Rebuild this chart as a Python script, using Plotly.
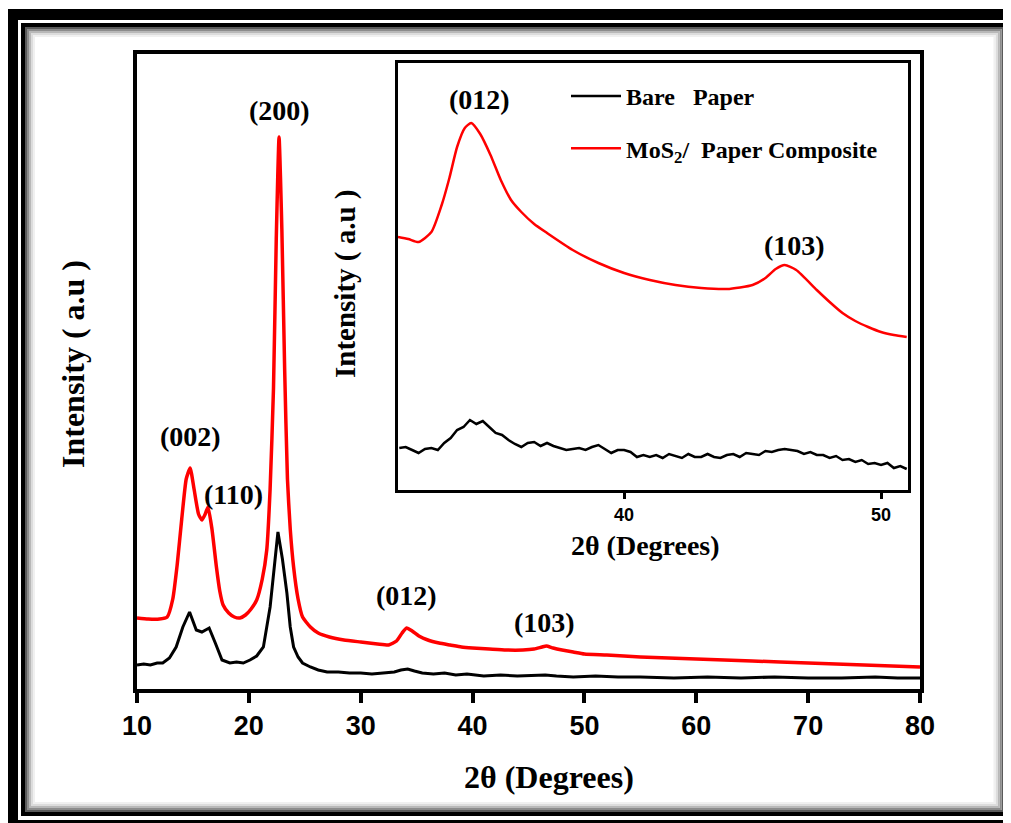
import plotly.graph_objects as go

# ---------------- data ----------------
# main panel, bare paper (black)
main_black_x = [10, 10.6, 11.2, 11.8, 12.3, 12.9, 13.5, 14.1, 14.7, 15.3,
                15.8, 16.45, 17.0, 17.6, 18.3, 18.9, 19.5, 20.1, 20.7, 21.3,
                21.9, 22.3, 22.6, 23.0, 23.4, 23.7, 24.0, 24.4, 24.8, 25.5,
                26.2, 27, 28, 29, 30, 31, 32, 33, 33.6, 34.2,
                34.8, 35.5, 36.5, 37.5, 38.5, 39.5, 41, 42.5, 44, 45.5,
                46.5, 47.5, 49, 51, 53, 55, 58, 61, 64, 67,
                70, 73, 76, 78, 80]
main_black_y = [24, 25, 24, 26, 26, 31, 42, 62, 77, 59,
                57, 61, 46, 29, 26, 27, 26, 29, 33, 42,
                82, 125, 157, 130, 96, 62, 42, 32, 26, 22,
                19, 17, 17, 16, 16, 15, 16, 17, 19, 20,
                18, 16, 15, 16, 14, 15, 13, 14, 13, 14,
                14, 13, 12, 13, 12, 12, 11, 12, 11, 12,
                11, 11, 12, 11, 11]

# main panel, MoS2 / paper composite (red)
main_red_x = [10, 11, 12, 12.7, 13.2, 13.6, 14.0, 14.4, 14.75, 15.1,
              15.5, 15.8, 16.1, 16.35, 16.7, 17.1, 17.4, 17.7, 18.2, 18.7,
              19.2, 19.7, 20.2, 20.7, 21.2, 21.6, 21.9, 22.2, 22.45, 22.7,
              22.95, 23.2, 23.45, 23.7, 24.0, 24.4, 24.8, 25.5, 26.2, 27.2,
              28.5, 30, 31.5, 32.5, 33.2, 33.7, 34.1, 34.6, 35.2, 36,
              37, 38, 39, 40, 41.5, 43, 44.5, 45.5, 46.2, 46.6,
              47.2, 48, 49, 50, 52, 55, 60, 65, 70, 75, 80]
main_red_y = [71, 70, 70, 72, 90, 125, 170, 210, 221, 200,
              175, 169, 175, 182, 160, 122, 98, 84, 76, 72,
              71, 74, 80, 89, 110, 139, 200, 300, 450, 552,
              460, 320, 210, 160, 122, 90, 72, 62, 56, 52,
              49, 47, 45, 44, 48, 56, 61, 58, 53, 49,
              46, 44, 42, 41, 40, 39, 39, 40, 42, 43,
              41, 39, 37, 35, 34, 32, 30, 28, 26, 24, 22]

# inset, bare paper (black)
ins_black_x = [31.25, 31.5, 31.75, 32.0, 32.25, 32.5, 32.75, 33.0, 33.25, 33.5,
               33.75, 34.0, 34.25, 34.5, 34.75, 35.0, 35.25, 35.5, 35.75, 36.0,
               36.25, 36.5, 36.75, 37.0, 37.25, 37.5, 37.75, 38.0, 38.25, 38.5,
               38.75, 39.0, 39.25, 39.5, 39.75, 40.0, 40.25, 40.5, 40.75, 41.0,
               41.25, 41.5, 41.75, 42.0, 42.25, 42.5, 42.75, 43.0, 43.25, 43.5,
               43.75, 44.0, 44.25, 44.5, 44.75, 45.0, 45.25, 45.5, 45.75, 46.0,
               46.25, 46.5, 46.75, 47.0, 47.25, 47.5, 47.75, 48.0, 48.25, 48.5,
               48.75, 49.0, 49.25, 49.5, 49.75, 50.0, 50.25, 50.5, 50.75, 51.0]
ins_black_y = [42, 43, 40, 37, 41, 42, 40, 47, 52, 60,
               63, 70, 66, 69, 63, 57, 55, 50, 46, 43,
               47, 48, 44, 47, 44, 42, 40, 41, 42, 40,
               43, 45, 41, 37, 40, 40, 38, 33, 35, 33,
               35, 32, 36, 34, 32, 36, 33, 33, 36, 33,
               32, 35, 36, 33, 37, 36, 35, 39, 38, 40,
               41, 40, 39, 36, 38, 35, 35, 32, 34, 30,
               31, 28, 30, 26, 27, 25, 27, 22, 24, 21]

# inset, MoS2 / paper composite (red)
ins_red_x = [31.2, 31.6, 32.0, 32.5, 32.9, 33.2, 33.5, 33.8, 34.05, 34.4,
             34.8, 35.2, 35.6, 36.0, 36.5, 37.0, 38.0, 39.0, 40.0, 41.0,
             42.0, 43.0, 44.0, 45.0, 45.5, 45.9, 46.25, 46.7, 47.5, 48.0,
             48.5, 49.0, 49.5, 50.0, 50.5, 51.0]
ins_red_y = [253, 251, 248, 258, 285, 312, 343, 362, 367, 356,
             335, 310, 290, 278, 266, 257, 240, 227, 217, 210,
             205, 202, 201, 205, 212, 221, 225, 220, 200, 188,
             177, 169, 163, 158, 155, 153]

series_names = ["Bare\u00a0\u00a0 Paper", "MoS<sub>2</sub>/\u00a0 Paper Composite"]

main_peak_labels = ["(002)", "(110)", "(200)", "(012)", "(103)"]
main_peak_x = [14.74, 18.67, 22.7, 34.13, 46.46]
main_peak_y = [253, 195, 579, 94, 67]

inset_peak_labels = ["(012)", "(103)"]
inset_peak_x = [34.36, 46.65]
inset_peak_y = [391, 245]

main_ticks = [10, 20, 30, 40, 50, 60, 70, 80]
inset_ticks = [40, 50]

# ---------------- figure ----------------
# the page body has an 8 px margin, so the figure is drawn 8 px in from the
# top-left corner of the window; layout positions below are window pixels.
OFF = 8
W, H = 1011 - OFF, 823 - OFF


def px(x):
    return (x - OFF) / W


def py(y):
    return 1 - (y - OFF) / H


SERIF = "Liberation Serif"
SANS = "Liberation Sans"

fig = go.Figure()

fig.add_trace(go.Scatter(x=main_black_x, y=main_black_y, mode="lines",
                         line=dict(color="black", width=3),
                         xaxis="x", yaxis="y", showlegend=False))
fig.add_trace(go.Scatter(x=main_red_x, y=main_red_y, mode="lines",
                         line=dict(color="#ff0000", width=3.5, shape="spline", smoothing=0.5),
                         xaxis="x", yaxis="y", showlegend=False))
fig.add_trace(go.Scatter(x=ins_black_x, y=ins_black_y, mode="lines",
                         line=dict(color="black", width=2.5),
                         name=series_names[0], legendgroup="a",
                         xaxis="x2", yaxis="y2"))
fig.add_trace(go.Scatter(x=ins_red_x, y=ins_red_y, mode="lines",
                         line=dict(color="#ff0000", width=2.5, shape="spline", smoothing=0.6),
                         name=series_names[1], legendgroup="b",
                         xaxis="x2", yaxis="y2"))

annotations = []
for t, x, y in zip(main_peak_labels, main_peak_x, main_peak_y):
    annotations.append(dict(text=t, x=x, y=y, xref="x", yref="y", showarrow=False,
                            xanchor="center", yanchor="middle",
                            font=dict(family=SERIF, size=28, color="black", weight="bold")))
for t, x, y in zip(inset_peak_labels, inset_peak_x, inset_peak_y):
    annotations.append(dict(text=t, x=x, y=y, xref="x2", yref="y2", showarrow=False,
                            xanchor="center", yanchor="middle",
                            font=dict(family=SERIF, size=28, color="black", weight="bold")))

# axis titles
annotations += [
    dict(text="2\u03b8 (Degrees)", x=px(549), y=py(777), xref="paper", yref="paper",
         showarrow=False, xanchor="center", yanchor="middle",
         font=dict(family=SERIF, size=32, color="black", weight="bold")),
    dict(text="Intensity ( a.u )", x=px(73), y=py(364), xref="paper", yref="paper",
         showarrow=False, textangle=-90, xanchor="center", yanchor="middle",
         font=dict(family=SERIF, size=32, color="black", weight="bold")),
    dict(text="2\u03b8 (Degrees)", x=px(645), y=py(545), xref="paper", yref="paper",
         showarrow=False, xanchor="center", yanchor="middle",
         font=dict(family=SERIF, size=28, color="black", weight="bold")),
    dict(text="Intensity ( a.u )", x=px(345), y=py(284), xref="paper", yref="paper",
         showarrow=False, textangle=-90, xanchor="center", yanchor="middle",
         font=dict(family=SERIF, size=29, color="black", weight="bold")),
]

# decorative frame around the figure
shapes = [
    dict(type="rect", xref="paper", yref="paper", x0=px(12.5), y0=py(14.5),
         x1=px(1016.5), y1=py(825.5), line=dict(color="black", width=11)),
    dict(type="rect", xref="paper", yref="paper", x0=px(23), y0=py(25),
         x1=px(1005.5), y1=py(814), line=dict(color="black", width=4)),
]
for i, c in enumerate(["#5a5a5a", "#8c8c8c", "#b8b8b8", "#dcdcdc", "#f0f0f0"]):
    d = 3 + 2 * i
    shapes.append(dict(type="rect", xref="paper", yref="paper",
                       x0=px(23 + d), y0=py(25 + d), x1=px(1005.5 - d), y1=py(814 - d),
                       line=dict(color=c, width=2)))

fig.update_layout(
    width=W, height=H,
    margin=dict(l=0, r=0, t=0, b=0, autoexpand=False),
    paper_bgcolor="white", plot_bgcolor="white",
    xaxis=dict(domain=[px(137), px(920)], range=[10, 80], tickvals=main_ticks,
               ticks="outside", ticklen=10, tickwidth=4, tickcolor="black",
               showline=True, linewidth=4, linecolor="black", mirror=True,
               showgrid=False, zeroline=False, anchor="y",
               tickfont=dict(family=SANS, size=27, color="black", weight="bold")),
    yaxis=dict(domain=[py(689), py(54)], range=[0, 635], showticklabels=False,
               ticks="", showline=True, linewidth=4, linecolor="black", mirror=True,
               showgrid=False, zeroline=False, anchor="x"),
    xaxis2=dict(domain=[px(398), px(908)], range=[31.2, 51.05], tickvals=inset_ticks,
                ticks="outside", ticklen=6, tickwidth=2.5, tickcolor="black",
                showline=True, linewidth=3, linecolor="black", mirror=True,
                showgrid=False, zeroline=False, anchor="y2",
                tickfont=dict(family=SANS, size=18, color="black", weight="bold")),
    yaxis2=dict(domain=[py(490), py(63)], range=[0, 427], showticklabels=False,
                ticks="", showline=True, linewidth=3, linecolor="black", mirror=True,
                showgrid=False, zeroline=False, anchor="x2"),
    legend=dict(x=px(566), y=py(74), xanchor="left", yanchor="top",
                bgcolor="rgba(0,0,0,0)", tracegroupgap=18, itemwidth=50,
                font=dict(family=SERIF, size=24, color="black", weight="bold")),
    showlegend=True,
    annotations=annotations,
    shapes=shapes,
)

fig.write_html("out.html")
